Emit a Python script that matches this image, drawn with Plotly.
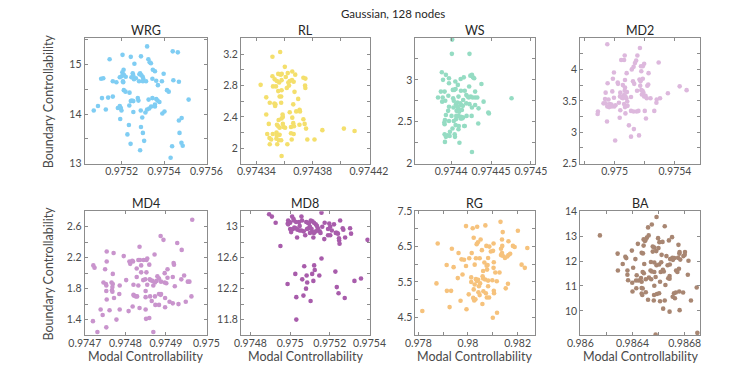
import plotly.graph_objects as go

# ---------------- data ----------------
panel_names = ["WRG", "RL", "WS", "MD2", "MD4", "MD8", "RG", "BA"]
main_title = "Gaussian, 128 nodes"
x_title = "Modal Controllability"
y_title = "Boundary Controllability"

wrg_x = [0.975320, 0.975441, 0.975465, 0.975204, 0.975243, 0.975291, 0.975143, 0.975260, 0.975326, 0.975332,
         0.975338, 0.975209, 0.975203, 0.975347, 0.975357, 0.975398, 0.975210, 0.975103, 0.975113, 0.975158,
         0.975175, 0.975191, 0.975200, 0.975206, 0.975207, 0.975219, 0.975252, 0.975255, 0.975267, 0.975284,
         0.975287, 0.975293, 0.975299, 0.975302, 0.975282, 0.975300, 0.975345, 0.975363, 0.975390, 0.975258,
         0.975246, 0.975371, 0.975315, 0.975414, 0.975422, 0.975444, 0.975470, 0.975210, 0.975218, 0.975237,
         0.975248, 0.975255, 0.975276, 0.975279, 0.975243, 0.975236, 0.975182, 0.975196, 0.975199, 0.975191,
         0.975158, 0.975136, 0.975107, 0.975088, 0.975068, 0.975125, 0.975327, 0.975345, 0.975363, 0.975369,
         0.975378, 0.975357, 0.975357, 0.975339, 0.975330, 0.975320, 0.975312, 0.975290, 0.975297, 0.975516,
         0.975392, 0.975402, 0.975255, 0.975483, 0.975470, 0.975193, 0.975234, 0.975291, 0.975300, 0.975227,
         0.975306, 0.975242, 0.975473, 0.975482, 0.975488, 0.975438, 0.975287, 0.975431]
wrg_y = [15.36, 15.26, 15.24, 15.19, 15.15, 15.16, 15.10, 15.01, 15.10, 15.04,
         15.02, 14.89, 14.84, 14.89, 14.86, 14.81, 14.79, 14.71, 14.72, 14.66,
         14.64, 14.74, 14.76, 14.66, 14.64, 14.75, 14.82, 14.77, 14.72, 14.80,
         14.82, 14.78, 14.75, 14.71, 14.66, 14.66, 14.71, 14.67, 14.66, 14.70,
         14.74, 14.58, 14.66, 14.48, 14.45, 14.68, 14.65, 14.48, 14.45, 14.43,
         14.27, 14.26, 14.32, 14.27, 14.26, 14.17, 14.12, 14.12, 14.07, 14.16,
         14.35, 14.33, 14.32, 14.16, 14.07, 14.09, 14.29, 14.32, 14.30, 14.27,
         14.24, 14.19, 14.15, 14.15, 14.11, 14.09, 14.03, 14.07, 13.93, 14.29,
         14.01, 14.05, 14.04, 13.92, 13.87, 13.90, 13.78, 13.74, 13.62, 13.59,
         13.46, 13.40, 13.62, 13.42, 13.36, 13.35, 13.27, 13.12]

rl_x = [0.9743569, 0.9743514, 0.9743602, 0.9743555, 0.9743572, 0.9743580, 0.9743655, 0.9743676, 0.9743623, 0.9743514,
        0.9743530, 0.9743546, 0.9743579, 0.9743562, 0.9743609, 0.9743637, 0.9743653, 0.9743665, 0.9743627, 0.9743734,
        0.9743748, 0.9743430, 0.9743518, 0.9743539, 0.9743555, 0.9743579, 0.9743616, 0.9743632, 0.9743671, 0.9743746,
        0.9743748, 0.9743470, 0.9743565, 0.9743576, 0.9743697, 0.9743495, 0.9743528, 0.9743533, 0.9743535, 0.9743576,
        0.9743662, 0.9743637, 0.9743683, 0.9743707, 0.9743710, 0.9743470, 0.9743586, 0.9743588, 0.9743558, 0.9743579,
        0.9743655, 0.9743734, 0.9743743, 0.9743488, 0.9743546, 0.9743555, 0.9743565, 0.9743588, 0.9743593, 0.9743646,
        0.9743662, 0.9743667, 0.9743706, 0.9743753, 0.9743869, 0.9744022, 0.9744098, 0.9743477, 0.9743516, 0.9743543,
        0.9743545, 0.9743565, 0.9743604, 0.9743646, 0.9743665, 0.9743493, 0.9743505, 0.9743542, 0.9743560, 0.9743576,
        0.9743651, 0.9743762, 0.9743813, 0.9743495, 0.9743548, 0.9743620, 0.9743579]
rl_y = [3.23, 3.17, 3.04, 2.95, 2.94, 2.95, 2.98, 2.94, 2.96, 2.92,
        2.88, 2.86, 2.87, 2.84, 2.91, 2.86, 2.87, 2.85, 2.84, 2.90,
        2.89, 2.81, 2.79, 2.79, 2.73, 2.74, 2.77, 2.80, 2.72, 2.80,
        2.77, 2.65, 2.66, 2.66, 2.63, 2.58, 2.57, 2.54, 2.56, 2.58,
        2.56, 2.46, 2.47, 2.49, 2.47, 2.43, 2.43, 2.40, 2.36, 2.38,
        2.39, 2.37, 2.31, 2.31, 2.30, 2.28, 2.26, 2.31, 2.27, 2.27,
        2.32, 2.28, 2.30, 2.25, 2.23, 2.25, 2.22, 2.18, 2.18, 2.20,
        2.16, 2.17, 2.26, 2.19, 2.18, 2.13, 2.11, 2.12, 2.10, 2.10,
        2.11, 2.11, 2.11, 2.05, 2.05, 2.05, 1.90]

ws_x = [0.9744012, 0.9744008, 0.9744229, 0.9743882, 0.9743933, 0.9743972, 0.9743897, 0.9744051, 0.9744118, 0.9744158,
        0.9744240, 0.9744260, 0.9744272, 0.9744288, 0.9744379, 0.9744300, 0.9743972, 0.9744083, 0.9743870, 0.9743917,
        0.9744020, 0.9744036, 0.9744055, 0.9744122, 0.9744170, 0.9744225, 0.9743834, 0.9743893, 0.9743964, 0.9744024,
        0.9744091, 0.9744189, 0.9744205, 0.9744220, 0.9744245, 0.9744268, 0.9744299, 0.9744327, 0.9744757, 0.9743886,
        0.9743925, 0.9744032, 0.9744079, 0.9744150, 0.9744406, 0.9744059, 0.9744075, 0.9744091, 0.9744114, 0.9744122,
        0.9744146, 0.9743972, 0.9744028, 0.9744189, 0.9744229, 0.9744300, 0.9744343, 0.9743961, 0.9744067, 0.9744099,
        0.9744134, 0.9744260, 0.9744473, 0.9744465, 0.9743933, 0.9744004, 0.9744063, 0.9744091, 0.9744122, 0.9744150,
        0.9744134, 0.9744193, 0.9744256, 0.9743921, 0.9743913, 0.9743917, 0.9743972, 0.9744032, 0.9744059, 0.9744118,
        0.9744138, 0.9744339, 0.9744055, 0.9744170, 0.9744162, 0.9744095, 0.9744016, 0.9744091, 0.9743984, 0.9743917,
        0.9743933, 0.9743953, 0.9743980, 0.9744043, 0.9744047, 0.9743921, 0.9744103, 0.9744260]
ws_y = [3.48, 3.31, 3.31, 3.09, 3.06, 3.02, 3.00, 2.98, 3.01, 3.03,
        3.05, 3.06, 3.03, 3.02, 2.95, 2.86, 2.96, 2.94, 2.86, 2.86,
        2.88, 2.88, 2.89, 2.87, 2.87, 2.92, 2.79, 2.79, 2.81, 2.78,
        2.80, 2.82, 2.80, 2.79, 2.80, 2.79, 2.79, 2.79, 2.78, 2.74,
        2.75, 2.75, 2.73, 2.76, 2.74, 2.71, 2.68, 2.66, 2.72, 2.70,
        2.69, 2.68, 2.67, 2.72, 2.71, 2.70, 2.66, 2.63, 2.63, 2.62,
        2.64, 2.67, 2.60, 2.61, 2.58, 2.57, 2.57, 2.57, 2.56, 2.55,
        2.54, 2.57, 2.57, 2.52, 2.49, 2.47, 2.51, 2.51, 2.53, 2.54,
        2.55, 2.48, 2.46, 2.45, 2.45, 2.45, 2.42, 2.41, 2.38, 2.35,
        2.32, 2.34, 2.33, 2.35, 2.32, 2.26, 2.25, 2.14]

md2_x = [0.974952, 0.975168, 0.975067, 0.975044, 0.975063, 0.975151, 0.975143, 0.975135, 0.975292, 0.975196,
         0.975187, 0.975175, 0.975126, 0.975114, 0.974996, 0.975080, 0.975225, 0.974989, 0.975177, 0.975069,
         0.975165, 0.975172, 0.975187, 0.975122, 0.975021, 0.975023, 0.974954, 0.975055, 0.975223, 0.975217,
         0.975170, 0.975130, 0.975069, 0.975177, 0.975185, 0.975149, 0.975191, 0.975353, 0.975431, 0.975477,
         0.974941, 0.974985, 0.975038, 0.975067, 0.975082, 0.975063, 0.975072, 0.975109, 0.975181, 0.975196,
         0.975205, 0.975213, 0.975238, 0.975301, 0.975279, 0.975277, 0.975263, 0.974937, 0.974960, 0.974996,
         0.975036, 0.975048, 0.975055, 0.975078, 0.975084, 0.974927, 0.974941, 0.974968, 0.974979, 0.975006,
         0.974998, 0.975029, 0.975063, 0.975086, 0.975069, 0.974952, 0.974964, 0.974981, 0.974890, 0.974888,
         0.975038, 0.975109, 0.975126, 0.975147, 0.975158, 0.975200, 0.975072, 0.975034, 0.975208, 0.974950,
         0.975095, 0.975128, 0.975162, 0.975109, 0.975004]
md2_y = [4.40, 4.34, 4.22, 4.15, 4.15, 4.22, 4.14, 4.10, 4.11, 4.09,
         4.05, 4.05, 4.04, 4.00, 3.95, 3.94, 3.94, 3.85, 3.97, 3.83,
         3.84, 3.81, 3.85, 3.81, 3.79, 3.77, 3.78, 3.75, 3.76, 3.74,
         3.74, 3.77, 3.71, 3.67, 3.66, 3.66, 3.63, 3.62, 3.73, 3.67,
         3.63, 3.65, 3.63, 3.66, 3.64, 3.59, 3.57, 3.56, 3.60, 3.57,
         3.58, 3.54, 3.54, 3.54, 3.52, 3.47, 3.34, 3.53, 3.52, 3.55,
         3.57, 3.55, 3.54, 3.54, 3.49, 3.46, 3.46, 3.45, 3.44, 3.43,
         3.41, 3.47, 3.45, 3.42, 3.40, 3.41, 3.40, 3.41, 3.33, 3.29,
         3.35, 3.34, 3.33, 3.33, 3.34, 3.34, 3.30, 3.23, 3.22, 3.17,
         3.11, 3.05, 2.95, 2.93, 2.87]

md4_x = [0.974965, 0.974887, 0.974894, 0.974928, 0.974939, 0.974835, 0.974754, 0.974771, 0.974872, 0.974796,
         0.974810, 0.974812, 0.974819, 0.974817, 0.974832, 0.974836, 0.974845, 0.974852, 0.974854, 0.974754,
         0.974721, 0.974724, 0.974750, 0.974839, 0.974828, 0.974859, 0.974919, 0.974920, 0.974904, 0.974769,
         0.974839, 0.974852, 0.974897, 0.974828, 0.974879, 0.974883, 0.974860, 0.974862, 0.974867, 0.974873,
         0.974877, 0.974888, 0.974897, 0.974901, 0.974945, 0.974958, 0.974954, 0.974938, 0.974917, 0.974904,
         0.974844, 0.974849, 0.974746, 0.974752, 0.974766, 0.974769, 0.974802, 0.974820, 0.974832, 0.974854,
         0.974869, 0.974922, 0.974753, 0.974768, 0.974767, 0.974753, 0.974768, 0.974786, 0.974820, 0.974821,
         0.974826, 0.974829, 0.974850, 0.974850, 0.974883, 0.974888, 0.974887, 0.974861, 0.974873, 0.974898,
         0.974963, 0.974772, 0.974785, 0.974754, 0.974949, 0.974909, 0.974917, 0.974931, 0.974898, 0.974865,
         0.974874, 0.974883, 0.974818, 0.974835, 0.974850, 0.974786, 0.974739, 0.974761, 0.974808, 0.974744,
         0.974778, 0.974851, 0.974859, 0.974720, 0.974753, 0.974731, 0.974869]
md4_y = [2.69, 2.48, 2.43, 2.39, 2.30, 2.34, 2.28, 2.26, 2.24, 2.22,
         2.15, 2.12, 2.15, 2.16, 2.17, 2.17, 2.17, 2.17, 2.19, 2.15,
         2.10, 2.07, 2.05, 2.10, 2.06, 2.11, 2.13, 2.11, 2.05, 1.99,
         2.01, 2.01, 2.00, 1.95, 1.96, 1.93, 1.92, 1.91, 1.90, 1.88,
         1.90, 1.89, 1.88, 1.87, 1.97, 1.89, 1.89, 1.92, 1.95, 1.94,
         1.91, 1.92, 1.88, 1.86, 1.88, 1.86, 1.91, 1.85, 1.84, 1.85,
         1.84, 1.83, 1.84, 1.82, 1.78, 1.77, 1.76, 1.84, 1.72, 1.71,
         1.70, 1.70, 1.77, 1.69, 1.73, 1.73, 1.72, 1.70, 1.70, 1.68,
         1.70, 1.68, 1.73, 1.66, 1.63, 1.63, 1.61, 1.60, 1.56, 1.64,
         1.59, 1.59, 1.57, 1.55, 1.53, 1.53, 1.53, 1.52, 1.51, 1.46,
         1.40, 1.41, 1.42, 1.38, 1.30, 1.24, 1.24]

md8_x = [0.974894, 0.974908, 0.974927, 0.975158, 0.974951, 0.975390,
         0.974990, 0.974995, 0.975000, 0.975010, 0.975017, 0.975018, 0.974988, 0.974990, 0.975000, 0.975014,
         0.975021, 0.975029, 0.975035, 0.975037, 0.975048, 0.975057, 0.975045, 0.975048, 0.975057, 0.975068,
         0.975076, 0.975081, 0.975089, 0.975095, 0.975100, 0.975092, 0.975108, 0.975104, 0.975112, 0.975120,
         0.975112, 0.975120, 0.975130, 0.975117, 0.975129, 0.975135, 0.975149, 0.975153, 0.975172, 0.975174,
         0.975191, 0.975202, 0.975197, 0.975202, 0.975191, 0.975221, 0.975230, 0.975235, 0.975241, 0.975252,
         0.975247, 0.975249, 0.975246, 0.975268, 0.975265, 0.975277, 0.975302, 0.975307,
         0.975005, 0.975060, 0.975085, 0.975140, 0.975162, 0.975210, 0.975100, 0.975030,
         0.975158, 0.975071, 0.975121, 0.975124, 0.975083, 0.975111, 0.975147, 0.975026, 0.975117, 0.975061,
         0.975086, 0.974987, 0.975228, 0.975235, 0.975244, 0.975275, 0.975324, 0.975357, 0.975080, 0.975031,
         0.975067, 0.975103, 0.975031]
md8_y = [13.16, 13.13, 13.05, 13.18, 12.75, 12.83,
         13.08, 13.06, 13.05, 13.13, 13.10, 13.08, 13.04, 13.03, 12.97, 12.97,
         12.99, 12.98, 12.86, 12.96, 12.95, 13.13, 13.06, 13.01, 12.95, 12.94,
         12.89, 13.06, 13.05, 13.04, 13.00, 12.98, 12.97, 13.08, 13.07, 13.05,
         12.93, 12.92, 12.94, 12.86, 13.03, 13.01, 12.94, 12.92, 12.84, 13.05,
         12.89, 12.89, 13.04, 13.00, 12.97, 13.03, 12.92, 12.92, 12.91, 13.08,
         12.82, 12.78, 12.85, 12.96, 12.98, 12.86, 12.98, 12.91,
         12.93, 13.08, 12.97, 12.98, 13.00, 12.95, 12.92, 13.06,
         12.59, 12.49, 12.50, 12.44, 12.37, 12.39, 12.37, 12.39, 12.30, 12.32,
         12.28, 12.26, 12.42, 12.22, 12.14, 12.08, 12.30, 12.33, 12.20, 12.09,
         12.11, 12.04, 11.80]

rg_x = [0.98131, 0.97992, 0.98019, 0.98037, 0.98070, 0.98201, 0.98140, 0.98023, 0.98051, 0.97878,
        0.98040, 0.98035, 0.98103, 0.98137, 0.98163, 0.98181, 0.98188, 0.98074, 0.98086, 0.97935,
        0.98015, 0.97962, 0.98101, 0.98092, 0.98138, 0.98133, 0.98239, 0.98056, 0.98137, 0.98133,
        0.98140, 0.98170, 0.98163, 0.98149, 0.98158, 0.97974, 0.97984, 0.98005, 0.98032, 0.98047,
        0.98081, 0.98066, 0.97914, 0.97942, 0.97992, 0.98027, 0.98075, 0.98079, 0.98104, 0.98216,
        0.98229, 0.98103, 0.98110, 0.98077, 0.98061, 0.97978, 0.97959, 0.98127, 0.98059, 0.98061,
        0.98013, 0.98032, 0.98041, 0.98036, 0.98069, 0.98081, 0.98049, 0.98044, 0.97873, 0.98013,
        0.98027, 0.98098, 0.98116, 0.98161, 0.98081, 0.98023, 0.98062, 0.98072, 0.97915, 0.97932,
        0.98104, 0.98105, 0.98152, 0.98042, 0.98047, 0.98003, 0.98076, 0.97970, 0.98021, 0.98025,
        0.98030, 0.98085, 0.98058, 0.97926, 0.97994, 0.97816, 0.98117, 0.98100]
rg_y = [7.20, 7.08, 7.02, 7.06, 7.10, 6.95, 6.91, 6.75, 6.70, 6.59,
        6.62, 6.57, 6.59, 6.70, 6.65, 6.52, 6.49, 6.52, 6.50, 6.44,
        6.32, 6.32, 6.38, 6.36, 6.52, 6.44, 6.46, 6.40, 6.32, 6.26,
        6.24, 6.30, 6.26, 6.18, 6.22, 6.14, 6.13, 6.17, 6.17, 6.17,
        6.18, 6.05, 5.98, 5.92, 5.95, 5.99, 5.96, 5.98, 6.06, 5.99,
        5.90, 5.90, 5.77, 5.85, 5.81, 5.71, 5.61, 5.77, 5.66, 5.60,
        5.63, 5.58, 5.56, 5.53, 5.57, 5.54, 5.46, 5.38, 5.46, 5.50,
        5.43, 5.55, 5.52, 5.45, 5.38, 5.29, 5.24, 5.18, 5.25, 5.25,
        5.25, 5.18, 5.32, 5.21, 5.13, 5.15, 5.06, 4.97, 5.05, 4.98,
        5.01, 5.06, 4.88, 4.79, 4.73, 4.68, 4.63, 4.49]

ba_x = [0.986150, 0.986584, 0.986548, 0.986519, 0.986647, 0.986524, 0.986510, 0.986500, 0.986485, 0.986495,
        0.986596, 0.986606, 0.986630, 0.986703, 0.986679, 0.986441, 0.986485, 0.986555, 0.986567, 0.986599,
        0.986470, 0.986480, 0.986286, 0.986345, 0.986352, 0.986395, 0.986422, 0.986555, 0.986582, 0.986623,
        0.986660, 0.986688, 0.986706, 0.986710, 0.986720, 0.986752, 0.986761, 0.986759, 0.986802, 0.986800,
        0.986790, 0.986829, 0.986749, 0.986766, 0.986490, 0.986325, 0.986541, 0.986567, 0.986584, 0.986604,
        0.986669, 0.986686, 0.986620, 0.986361, 0.986288, 0.986405, 0.986478, 0.986487, 0.986432, 0.986361,
        0.986538, 0.986548, 0.986567, 0.986633, 0.986640, 0.986684, 0.986734, 0.986744, 0.986756, 0.986824,
        0.986465, 0.986502, 0.986526, 0.986366, 0.986427, 0.986446, 0.986470, 0.986543, 0.986611, 0.986674,
        0.986684, 0.986577, 0.986616, 0.986652, 0.986567, 0.986398, 0.986470, 0.986478, 0.986470, 0.986475,
        0.986400, 0.986502, 0.986565, 0.986587, 0.986604, 0.986718, 0.986732, 0.986758, 0.986788, 0.986708,
        0.986725, 0.986519, 0.986563, 0.986611, 0.986647, 0.986848, 0.986635, 0.986684, 0.986761, 0.986892,
        0.986577, 0.986897, 0.986429]
ba_y = [13.03, 13.77, 13.47, 13.35, 13.40, 13.03, 12.94, 12.85, 12.87, 12.81,
        12.92, 12.76, 12.77, 12.96, 12.83, 12.69, 12.62, 12.58, 12.54, 12.52,
        12.33, 12.31, 12.30, 12.17, 12.12, 12.42, 12.08, 12.38, 12.40, 12.25,
        12.20, 12.08, 12.13, 12.05, 12.12, 12.65, 12.36, 12.30, 12.36, 12.25,
        12.20, 12.01, 12.13, 12.06, 11.88, 11.88, 11.96, 11.94, 11.83, 11.86,
        11.83, 11.86, 11.95, 11.62, 11.62, 11.73, 11.56, 11.51, 11.43, 11.45,
        11.62, 11.58, 11.56, 11.65, 11.58, 11.40, 11.62, 11.56, 11.69, 11.45,
        11.32, 11.27, 11.34, 11.23, 11.22, 11.22, 11.17, 11.27, 11.17, 11.31,
        11.29, 11.36, 11.56, 11.04, 11.01, 11.13, 10.92, 10.90, 10.70, 10.64,
        10.78, 10.75, 10.64, 10.68, 10.71, 10.71, 10.74, 10.78, 10.74, 10.57,
        10.51, 10.45, 10.42, 10.39, 10.42, 10.42, 10.09, 9.97, 10.03, 10.94,
        9.05, 9.12, 10.91]

# axis ranges and ticks (labelled ticks, then unlabelled ones)
x_ranges = [[0.975025, 0.975601], [0.974329, 0.9744205], [0.974355, 0.9745045], [0.974773, 0.975568],
            [0.9746995, 0.9750005], [0.974752, 0.9754005], [0.97788, 0.98268], [0.9859995, 0.98692]]
y_ranges = [[12.999, 15.53], [1.80, 3.41], [1.999, 3.50], [2.499, 4.50],
            [1.20, 2.80], [11.60, 13.20], [3.999, 7.501], [9.03, 14.001]]
x_labels = [["0.9752", "0.9754", "0.9756"], ["0.97434", "0.97438", "0.97442"], ["0.9744", "0.97445", "0.9745"],
            ["0.975", "0.9754"], ["0.9747", "0.9748", "0.9749", "0.975"], ["0.9748", "0.975", "0.9752", "0.9754"],
            ["0.978", "0.98", "0.982"], ["0.986", "0.9864", "0.9868"]]
x_minor = [[], [0.97436, 0.97440], [], [0.9748, 0.9752], [], [], [0.979, 0.981], [0.9862, 0.9866]]
y_labels = [["13", "14", "15"], ["2", "2.4", "2.8", "3.2"], ["2", "2.5", "3"], ["2.5", "3", "3.5", "4"],
            ["1.4", "1.8", "2.2", "2.6"], ["11.8", "12.2", "12.6", "13"], ["4.5", "5.5", "6.5", "7.5"],
            ["10", "11", "12", "13", "14"]]
y_minor = [[13.5, 14.5, 15.5], [2.2, 2.6, 3.0], [2.25, 2.75, 3.25], [2.75, 3.25, 3.75, 4.25],
           [1.6, 2.0, 2.4], [12.0, 12.4, 12.8], [5.0, 6.0, 7.0], []]

colors = ["#7fcdf3", "#f4df6c", "#95dcc3", "#ddb8dd", "#c994cd", "#a85cab", "#f6c27c", "#a88672"]

xs = [wrg_x, rl_x, ws_x, md2_x, md4_x, md8_x, rg_x, ba_x]
ys = [wrg_y, rl_y, ws_y, md2_y, md4_y, md8_y, rg_y, ba_y]

# ---------------- layout geometry (pixels) ----------------
W, H = 747, 374
cols = [(72, 200), (236, 371), (419, 544), (592, 718)]
rows = [(33, 163), (212, 340)]
FONT = "Lato"
axis_col = "#8c8c8c"
tick_col = "#4a4a4a"
text_col = "#262626"

fig = go.Figure()
layout = dict(width=W, height=H, margin=dict(l=0, r=0, t=0, b=0),
              paper_bgcolor="white", plot_bgcolor="white", showlegend=False,
              font=dict(family=FONT, color=tick_col))
annotations = []

for i in range(8):
    r, c = divmod(i, 4)
    x0, x1 = cols[c]
    y0, y1 = rows[r]
    xd = [x0 / W, x1 / W]
    yd = [1 - y1 / H, 1 - y0 / H]
    n = i + 1
    xa = "x" if n == 1 else f"x{n}"
    ya = "y" if n == 1 else f"y{n}"
    fig.add_trace(go.Scatter(x=xs[i], y=ys[i], mode="markers", xaxis=xa, yaxis=ya,
                             marker=dict(size=4.6, color=colors[i], line=dict(width=0)),
                             hoverinfo="skip"))
    xvals = [float(v) for v in x_labels[i]] + x_minor[i]
    xtext = x_labels[i] + [""] * len(x_minor[i])
    yvals = [float(v) for v in y_labels[i]] + y_minor[i]
    ytext = y_labels[i] + [""] * len(y_minor[i])
    common = dict(showline=True, linecolor=axis_col, linewidth=1, mirror="ticks",
                  ticks="inside", ticklen=3, tickwidth=1, tickcolor=axis_col,
                  showgrid=False, zeroline=False, fixedrange=True,
                  tickfont=dict(family=FONT, size=10.5, color=tick_col), tickmode="array")
    layout["xaxis" if n == 1 else f"xaxis{n}"] = dict(
        domain=xd, range=x_ranges[i], tickvals=xvals, ticktext=xtext,
        anchor=ya, ticklabelstandoff=-2, **common)
    layout["yaxis" if n == 1 else f"yaxis{n}"] = dict(
        domain=yd, range=y_ranges[i], tickvals=yvals, ticktext=ytext,
        anchor=xa, **common)
    annotations.append(dict(text=panel_names[i], x=(x0 + x1) / 2 / W, y=1 - (y0 - 8) / H,
                            xref="paper", yref="paper", showarrow=False,
                            font=dict(family=FONT, size=12.5, color=text_col),
                            xanchor="center", yanchor="middle"))
    if r == 1:
        annotations.append(dict(text=x_title, x=(x0 + x1) / 2 / W, y=1 - 362 / H,
                                xref="paper", yref="paper", showarrow=False,
                                font=dict(family=FONT, size=12.5, color=tick_col),
                                xanchor="center", yanchor="middle"))
    if c == 0:
        annotations.append(dict(text=y_title, x=34 / W, y=1 - (y0 + y1) / 2 / H,
                                xref="paper", yref="paper", showarrow=False, textangle=-90,
                                font=dict(family=FONT, size=12.5, color=tick_col),
                                xanchor="center", yanchor="middle"))

annotations.append(dict(text=main_title, x=396 / W, y=1 - 8 / H, xref="paper", yref="paper",
                        showarrow=False, font=dict(family=FONT, size=11.5, color=text_col),
                        xanchor="center", yanchor="middle"))
layout["annotations"] = annotations
fig.update_layout(**layout)
fig.write_html("out.html", config={"displayModeBar": False},
               post_script="document.body.style.margin='0';document.body.style.padding='0';")
